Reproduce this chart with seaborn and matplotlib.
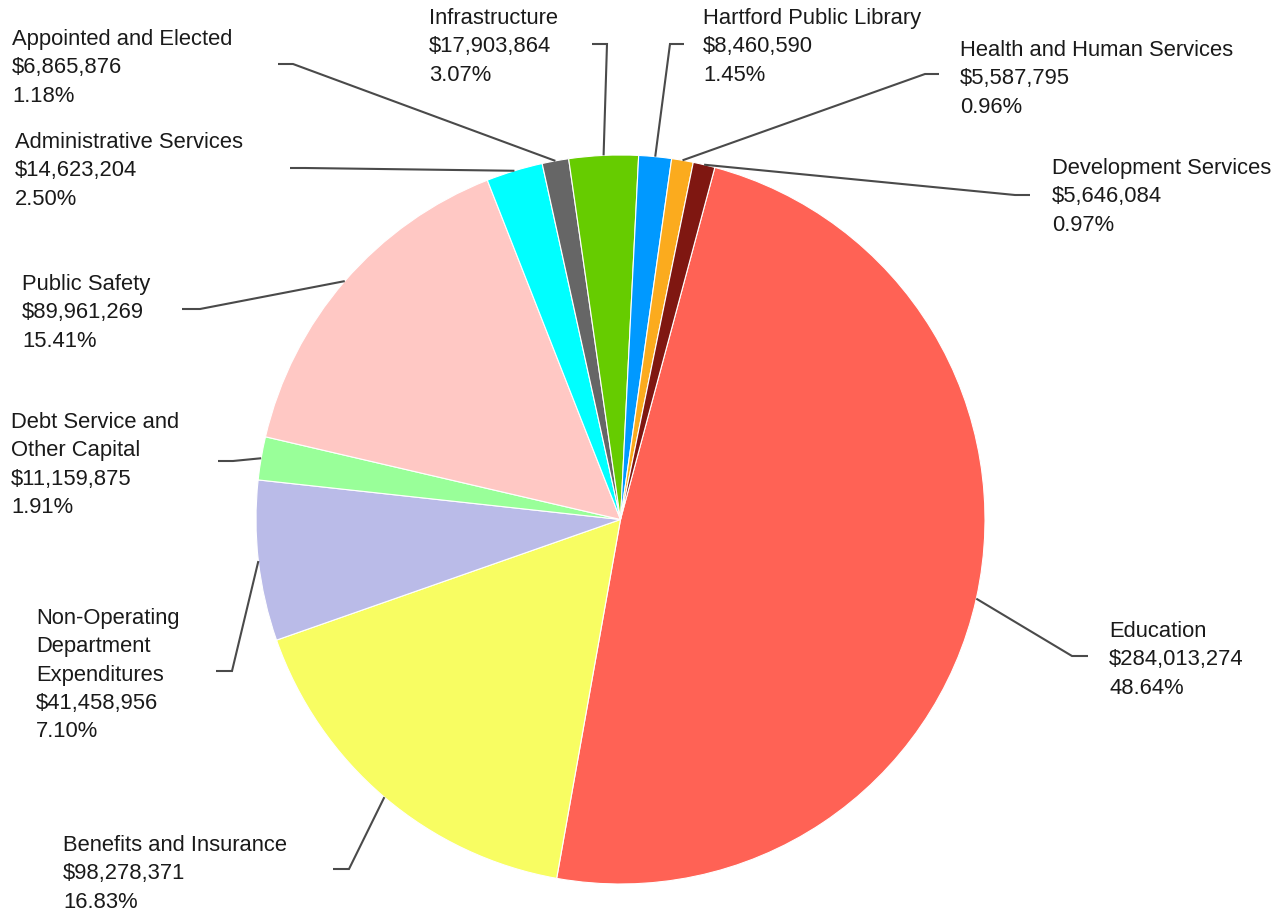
import matplotlib
matplotlib.use("Agg")
import matplotlib.pyplot as plt
import seaborn as sns
import numpy as np

# ---- data ----
categories = [
    "Education",
    "Benefits and Insurance",
    "Non-Operating\nDepartment\nExpenditures",
    "Debt Service and\nOther Capital",
    "Public Safety",
    "Administrative Services",
    "Appointed and Elected",
    "Infrastructure",
    "Hartford Public Library",
    "Health and Human Services",
    "Development Services",
]
amounts = [284013274, 98278371, 41458956, 11159875, 89961269, 14623204,
           6865876, 17903864, 8460590, 5587795, 5646084]
colors = ["#ff6255", "#f8fd62", "#babbe8", "#99ff99", "#ffc8c4", "#00ffff",
          "#666666", "#66cc00", "#0099ff", "#fbab1e", "#7f1711"]

# ---- layout (pixel coordinates of label text top-left, elbow, line end) ----
text_pos = [(1109, 621), (63, 835), (36, 608), (11, 412), (22, 274), (15, 132),
            (12, 29), (429, 8), (703, 8), (960, 40), (1052, 158)]
elbow_pos = [(1072, 656), (349, 869), (232, 671), (233, 461), (200, 309), (305, 168),
             (293, 64), (607, 44), (670, 44), (925, 74), (1015, 195)]
end_x = [1088, 333, 216, 218, 182, 290, 278, 592, 684, 939, 1030]

sns.set_theme(style="white")
plt.rcParams['font.family'] = ['Liberation Sans', 'DejaVu Sans']

W, H = 1288, 913
CX, CY, R = 620.5, 519.5, 364.5


def px(x, y):
    return ((x - CX) / R, (CY - y) / R)


fig = plt.figure(figsize=(W / 100, H / 100), dpi=100)
ax = fig.add_axes([0, 0, 1, 1])
wedges, _ = ax.pie(amounts, colors=colors, startangle=75, counterclock=False,
                   radius=1, center=(0, 0),
                   wedgeprops=dict(linewidth=0.8, edgecolor='white'))
ax.set_xlim((0 - CX) / R, (W - CX) / R)
ax.set_ylim((CY - H) / R, CY / R)
ax.axis('off')

total = float(sum(amounts))
line_color = "#4a4a4a"
for i, w in enumerate(wedges):
    mid = np.deg2rad((w.theta1 + w.theta2) / 2.0)
    sx, sy = np.cos(mid), np.sin(mid)
    ex, ey = px(*elbow_pos[i])
    fx, fy = px(end_x[i], elbow_pos[i][1])
    ax.plot([sx, ex, fx], [sy, ey, fy], color=line_color, lw=1.5,
            solid_capstyle='butt', solid_joinstyle='miter')
    label = f"{categories[i]}\n${amounts[i]:,}\n{amounts[i] / total * 100:.2f}%"
    tx, ty = px(*text_pos[i])
    ax.text(tx, ty, label, ha='left', va='top', fontsize=15.8,
            color='#1a1a1a', linespacing=1.46)

fig.savefig("out.png", dpi=100)
